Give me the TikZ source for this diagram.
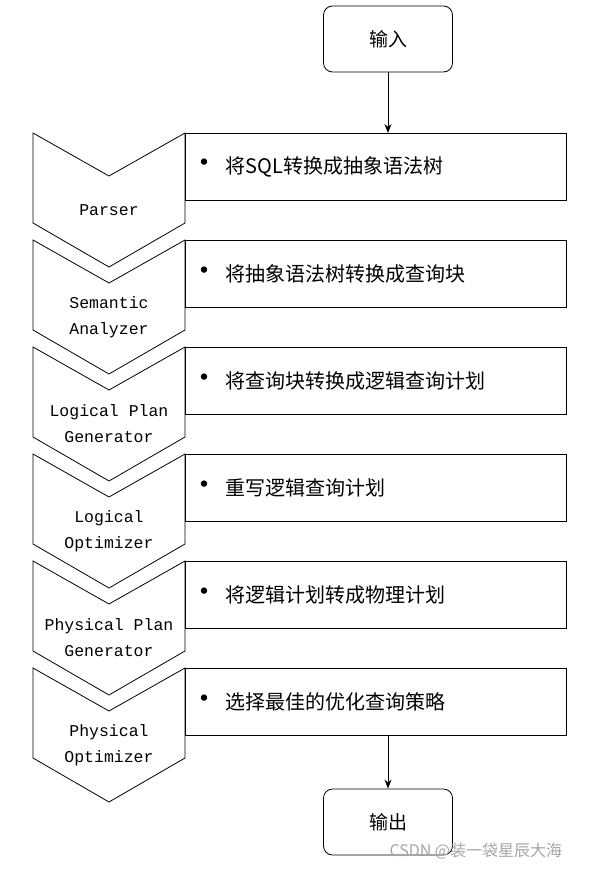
\documentclass[tikz,border=0pt]{standalone}
\usepackage{fontspec}
\setmainfont{Noto Sans CJK SC}
\setmonofont{Liberation Mono}
\usetikzlibrary{arrows.meta}
\tikzset{
	stagebox/.style={draw, line width=0.8pt, minimum width=381pt, minimum height=67pt, anchor=north west, inner sep=0pt},
	endnode/.style={draw, line width=0.8pt, rounded corners=9pt, minimum width=129pt, minimum height=66pt, font=\fontsize{19}{22}\selectfont},
	stagelabel/.style={align=center, font=\ttfamily\fontsize{16.5}{26}\selectfont},
	flow/.style={-{Stealth[length=9pt,width=7pt]}, line width=1pt}
}
\newcommand{\chevron}[3] % top in px, name, text
{
	% outline
	\draw[line width=0.8pt] (33,#1) -- (109,#1+43) -- (185,#1) -- (185,#1+90)
		-- (109,#1+134) -- (33,#1+90) -- cycle;
	% label
	\node[stagelabel] (#2) at (109,#1+77) {#3};
}
\newcommand{\stepbox}[3] % top in px, name, text
{
	\node[stagebox] (#2) at (185,#1) {};
	\node[anchor=west, font=\fontsize{20}{22}\selectfont] at (186,#1+33.5) {\scalebox{1.5}{\textbullet}\hspace{6pt}#3};
}

\begin{document}
\begin{tikzpicture}[x=1pt, y=-1pt]
	% page 613 x 869 px
	\useasboundingbox (0,0) rectangle (613,869);
	\chevron{133}{parser}{Parser};
	\chevron{240}{semantic}{Semantic\\Analyzer};
	\chevron{347}{lpg}{Logical Plan\\Generator};
	\chevron{454}{lopt}{Logical\\Optimizer};
	\chevron{561}{ppg}{Physical Plan\\Generator};
	\chevron{668}{popt}{Physical\\Optimizer};

	\stepbox{133}{s1}{将SQL转换成抽象语法树};
	\stepbox{240}{s2}{将抽象语法树转换成查询块};
	\stepbox{347}{s3}{将查询块转换成逻辑查询计划};
	\stepbox{454}{s4}{重写逻辑查询计划};
	\stepbox{561}{s5}{将逻辑计划转成物理计划};
	\stepbox{668}{s6}{选择最佳的优化查询策略};

	\node[endnode] (in) at (388,39) {输入};
	\node[endnode] (out) at (388,822) {输出};
	\draw[flow] (in.south) -- (in.south |- s1.north);
	\draw[flow] (out.north |- s6.south) -- (out.north);

	\node[text=gray!70, font=\fontsize{16}{18}\selectfont, anchor=west] (mark) at (386,851) {CSDN @装一袋星辰大海};
\end{tikzpicture}
\end{document}
